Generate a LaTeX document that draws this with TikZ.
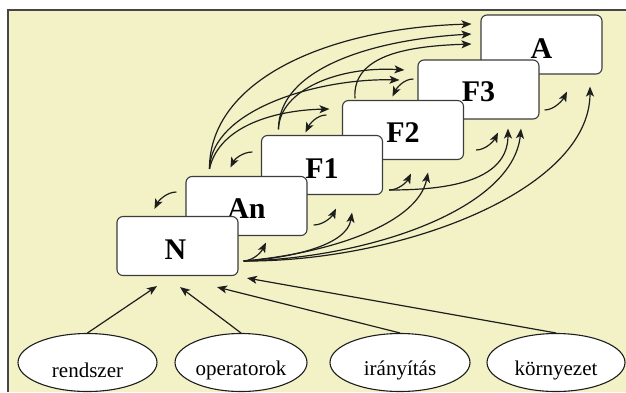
\documentclass[tikz,border=0pt]{standalone}
\usepackage{fontspec}
\setmainfont{Liberation Serif}
\usetikzlibrary{arrows.meta,calc,shapes.geometric}
\definecolor{bgyellow}{RGB}{242,242,198}
\definecolor{framegray}{RGB}{70,70,70}
\definecolor{boxgray}{RGB}{60,60,60}
\definecolor{arrowblack}{RGB}{30,30,30}
\begin{document}
\begin{tikzpicture}[x=1pt,y=-1pt,
  stage/.style={draw=boxgray, fill=white, line width=1.1pt, rounded corners=6pt,
    minimum width=121pt, minimum height=59pt, inner sep=0pt},
  stagelabel/.style={font=\fontsize{30}{32}\selectfont\bfseries, inner sep=0pt},
  source/.style={draw=arrowblack, fill=white, line width=1.1pt, ellipse,
    minimum height=58pt, inner sep=0pt},
  srclabel/.style={font=\fontsize{21}{24}\selectfont, inner sep=0pt},
  conn/.style={draw=arrowblack, line width=1.2pt, -{Stealth[length=10pt,width=8pt,inset=2.5pt]}},
]
\useasboundingbox (0,0) rectangle (626,392);
\fill[bgyellow] (8,10) rectangle (626,392);
\draw[framegray, line width=1.4pt] (626,10) -- (8,10) -- (8,392);

% stages, back to front
\node[stage] (A)  at (541.5,44.5) {};
\node[stagelabel] (Alab) at ($(A.center)+(0,4)$) {A};
\node[stage] (F3) at (478.5,89.5) {};
\node[stagelabel] (F3lab) at ($(F3.center)+(0,2)$) {F3};
\node[stage] (F2) at (403,130) {};
\node[stagelabel] (F2lab) at ($(F2.center)+(0,3)$) {F2};
\node[stage] (F1) at (322,165) {};
\node[stagelabel] (F1lab) at ($(F1.center)+(0,4)$) {F1};
\node[stage] (An) at (246.5,206) {};
\node[stagelabel] (Anlab) at ($(An.center)+(0,3)$) {An};
\node[stage] (N)  at (177.5,246) {};
\node[stagelabel] (Nlab) at ($(N.center)+(-2,4)$) {N};

% sources
\node[source, minimum width=139pt] (r) at (87.5,362.5) {};
\node[srclabel] (rlab) at ($(r.center)+(0,8)$) {rendszer};
\node[source, minimum width=132pt] (o) at (241,362.5) {};
\node[srclabel] (olab) at ($(o.center)+(0,8)$) {operatorok};
\node[source, minimum width=140pt] (i) at (400,362.5) {};
\node[srclabel] (ilab) at ($(i.center)+(0,8)$) {irányítás};
\node[source, minimum width=138pt] (k) at (556,362.5) {};
\node[srclabel] (klab) at ($(k.center)+(0,8)$) {környezet};

% connector ends
\coordinate (Nr)  at ($(N.east)+(5,15)$);
\coordinate (Anr) at ($(An.east)+(6,19)$);
\coordinate (F1r) at ($(F1.east)+(6,25)$);
\coordinate (F2r) at ($(F2.east)+(12,20)$);
\coordinate (F3r) at ($(F3.east)+(5,20.5)$);
\coordinate (tAn)  at ($(An.south)+(19.5,6.5)$);
\coordinate (tF1a) at ($(F1.south)+(14,13.5)$);
\coordinate (tF1b) at ($(F1.south)+(30,17.5)$);
\coordinate (tF2a) at ($(F2.south)+(8,13.5)$);
\coordinate (tF2b) at ($(F2.south)+(25,12.5)$);
\coordinate (tF3a) at ($(F3.south)+(19.5,13)$);
\coordinate (tF3b) at ($(F3.south)+(29.5,9)$);
\coordinate (tF3c) at ($(F3.south)+(42.5,9)$);
\coordinate (tAa)  at ($(A.south)+(25.5,17)$);
\coordinate (tAb)  at ($(A.south)+(48.5,12)$);

\coordinate (Ant) at ($(An.north west)+(24,-7)$);
\coordinate (F1t) at ($(F1.north west)+(17.5,-5.5)$);
\coordinate (F2t) at ($(F2.north west)+(13,-1.5)$);
\coordinate (tA1) at ($(A.west)+(-9,-20.5)$);
\coordinate (tA2) at ($(A.west)+(-9,-10.5)$);
\coordinate (tA3) at ($(A.west)+(-9,-0.5)$);
\coordinate (tF3u1) at ($(F3.west)+(-13,-19.5)$);
\coordinate (tF3u2) at ($(F3.west)+(-18,-9.5)$);
\coordinate (tF2u)  at ($(F2.west)+(-12.5,-21)$);

\coordinate (bAns) at ($(An.west)+(-9,-14)$);
\coordinate (bAnt) at ($(N.north west)+(38,-7)$);
\coordinate (bF1s) at ($(F1.west)+(-8.5,-13)$);
\coordinate (bF1t) at ($(An.north west)+(45,-8.5)$);
\coordinate (bF2s) at ($(F2.west)+(-15.5,-15)$);
\coordinate (bF2t) at ($(F1.north west)+(44.5,-2.5)$);
\coordinate (bF3s) at ($(F3.west)+(-4,-10.5)$);
\coordinate (bF3t) at ($(F2.north west)+(50.5,-3.5)$);

\coordinate (tR) at ($(N.south)+(-20.5,10)$);
\coordinate (tO) at ($(N.south)+(2.5,11)$);
\coordinate (tI) at ($(N.south)+(39.5,11)$);
\coordinate (tK) at ($(N.south)+(69.5,2)$);

% forward, lower right
\draw[conn] (Nr) .. controls +(12,-1) and +(-4,8) .. (tAn);
\draw[conn] (Nr) .. controls +(47,-3) and +(-5,33) .. (tF1b);
\draw[conn] (Nr) .. controls +(90,-8) and +(-10,50) .. (tF2b);
\draw[conn] (Nr) .. controls +(127,-3) and +(-8,80) .. (tF3c);
\draw[conn] (Nr) .. controls +(157,1) and +(0,104) .. (tAb);
\draw[conn] (Anr) .. controls +(10,0) and +(-4,8) .. (tF1a);
\draw[conn] (F1r) .. controls +(10,0) and +(-4,8) .. (tF2a);
\draw[conn] (F1r) .. controls +(52,0) and +(0,55) .. (tF3b);
\draw[conn] (F2r) .. controls +(10,0) and +(-4,8) .. (tF3a);
\draw[conn] (F3r) .. controls +(10,0) and +(-4,8) .. (tAa);

% forward, upper left
\draw[conn] (Ant) .. controls +(0,-90) and +(-142,4) .. (tA1);
\draw[conn] (F1t) .. controls +(0,-60) and +(-102,6) .. (tA2);
\draw[conn] (F2t) .. controls +(-3,-44) and +(-62,2) .. (tA3);
\draw[conn] (Ant) .. controls +(2,-60) and +(-80,-2) .. (tF3u2);
\draw[conn] (F1t) .. controls +(1,-40) and +(-65,-4) .. (tF3u1);
\draw[conn] (Ant) .. controls +(10,-45) and +(-50,1) .. (tF2u);

% backward shorts
\draw[conn] (bAns) .. controls +(-10,0) and +(4,-8) .. (bAnt);
\draw[conn] (bF1s) .. controls +(-10,0) and +(4,-8) .. (bF1t);
\draw[conn] (bF2s) .. controls +(-10,0) and +(4,-8) .. (bF2t);
\draw[conn] (bF3s) .. controls +(-10,0) and +(4,-8) .. (bF3t);

% sources into N
\draw[conn] (r.north) -- (tR);
\draw[conn] (o.north) -- (tO);
\draw[conn] (i.north) -- (tI);
\draw[conn] (k.north) -- (tK);
\end{tikzpicture}
\end{document}
